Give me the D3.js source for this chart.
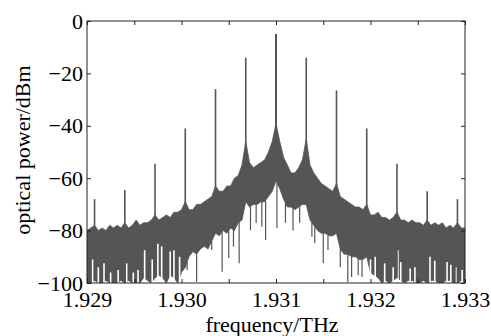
<!DOCTYPE html>
<html>
<head>
<meta charset="utf-8">
<script src="https://cdn.jsdelivr.net/npm/d3@7"></script>
<style>
  body { margin: 0; background: #fff; }
  text { font-family: "Liberation Serif", "Times New Roman", serif; }
</style>
</head>
<body>
<div id="chart"></div>
<script>
// sample grid of the spectrum envelope (THz)
const envFreq = [
  1.92900, 1.92904, 1.92908, 1.92912, 1.92916, 1.92920, 1.92924, 1.92928, 1.92932, 1.92936,
  1.92940, 1.92944, 1.92948, 1.92952, 1.92956, 1.92960, 1.92964, 1.92968, 1.92972, 1.92976,
  1.92980, 1.92984, 1.92988, 1.92992, 1.92996, 1.93000, 1.93004, 1.93008, 1.93012, 1.93016,
  1.93020, 1.93024, 1.93028, 1.93032, 1.93036, 1.93040, 1.93044, 1.93048, 1.93052, 1.93056,
  1.93060, 1.93064, 1.93068, 1.93072, 1.93076, 1.93080, 1.93084, 1.93088, 1.93092, 1.93096,
  1.93100, 1.93104, 1.93108, 1.93112, 1.93116, 1.93120, 1.93124, 1.93128, 1.93132, 1.93136,
  1.93140, 1.93144, 1.93148, 1.93152, 1.93156, 1.93160, 1.93164, 1.93168, 1.93172, 1.93176,
  1.93180, 1.93184, 1.93188, 1.93192, 1.93196, 1.93200, 1.93204, 1.93208, 1.93212, 1.93216,
  1.93220, 1.93224, 1.93228, 1.93232, 1.93236, 1.93240, 1.93244, 1.93248, 1.93252, 1.93256,
  1.93260, 1.93264, 1.93268, 1.93272, 1.93276, 1.93280, 1.93284, 1.93288, 1.93292, 1.93296,
  1.93300
];
// upper edge of the noise band (dBm)
const envTop = [
  -80, -79, -78, -80, -79, -80, -78, -79, -78, -79,
  -77, -79, -78, -76, -78, -77, -77, -76, -74, -76,
  -75, -74, -75, -73, -73, -72, -69, -72, -72, -70,
  -70, -69, -68, -67, -63, -65, -65, -63, -63, -60,
  -59, -55, -46, -54, -56, -55, -54, -53, -50, -46,
  -39, -46, -52, -55, -58, -58, -56, -53, -45, -55,
  -58, -60, -62, -63, -64, -65, -62, -67, -68, -69,
  -70, -71, -71, -72, -70, -74, -74, -73, -75, -75,
  -76, -75, -73, -76, -76, -77, -76, -77, -77, -78,
  -76, -78, -77, -78, -77, -79, -78, -79, -77, -79,
  -79
];
// lower edge of the dense noise band (dBm)
const envBottom = [
  -100, -100, -99, -100, -100, -99, -100, -100, -100, -99,
  -100, -99, -100, -100, -100, -98, -99, -100, -98, -97,
  -98, -100, -97, -98, -100, -96, -94, -90, -88, -89,
  -87, -86, -87, -84, -81, -82, -80, -81, -79, -80,
  -77, -76, -69, -71, -70, -70, -69, -69, -67, -65,
  -61, -64, -68, -71, -71, -72, -71, -70, -70, -76,
  -78, -80, -81, -81, -82, -82, -81, -87, -89, -89,
  -90, -90, -91, -91, -90, -96, -97, -98, -100, -99,
  -100, -99, -98, -99, -100, -99, -99, -100, -100, -99,
  -100, -99, -99, -100, -100, -99, -99, -100, -100, -99,
  -100
];
// comb lines
const peakFreq = [1.92908, 1.92940, 1.92972, 1.93004, 1.93036, 1.93068, 1.93100,
                  1.93132, 1.93164, 1.93196, 1.93228, 1.93260, 1.93292];
const peakPower = [-68, -64.5, -54.5, -41, -26, -14, -5, -14, -26.5, -41, -54.5, -65, -68];
// downward noise spikes below the band
const dipFreq = [1.93006, 1.93016, 1.93032, 1.93043, 1.93050, 1.93055, 1.93061, 1.93073,
                 1.93079, 1.93085, 1.93089, 1.93101, 1.93110, 1.93118, 1.93125, 1.93138,
                 1.93141, 1.93150, 1.93155, 1.93168, 1.93176, 1.93180, 1.93187, 1.93191];
const dipPower = [-95, -99.5, -87.4, -95.7, -90.5, -86.1, -92.5, -79.8,
                  -77.1, -78.5, -83.6, -79, -77, -80, -77, -82.3,
                  -84.7, -92.4, -87.4, -93.9, -99.6, -97.7, -97, -97.7];
// white gaps rising from the floor in the outer noise
const gapFreq = [1.92906, 1.92912, 1.92918, 1.92925, 1.92933, 1.92942, 1.92949, 1.92954,
                 1.92961, 1.92969, 1.92975, 1.92979, 1.92988, 1.92992, 1.92998,
                 1.93200, 1.93205, 1.93215, 1.93224, 1.93229, 1.93232, 1.93242, 1.93247,
                 1.93263, 1.93268, 1.93281, 1.93285, 1.93291, 1.93297];
const gapTop = [-91, -94, -92.5, -96, -95, -92.5, -96, -95,
                -87.5, -91, -85, -86, -88, -87.5, -90,
                -91, -90, -92.5, -94, -87.5, -92, -94.5, -94,
                -90, -91.5, -92, -93, -94, -95];

const xTicks = [1.929, 1.9295, 1.930, 1.9305, 1.931, 1.9315, 1.932, 1.9325, 1.933];
const xLabels = ["1.929", "", "1.930", "", "1.931", "", "1.932", "", "1.933"];
const yTicks = [-100, -80, -60, -40, -20, 0];
const yLabels = ["\u2212100", "\u221280", "\u221260", "\u221240", "\u221220", "0"];

const W = 491, H = 336;
const margin = { top: 21, right: 26, bottom: 53, left: 87 };
const plotW = W - margin.left - margin.right;
const plotH = H - margin.top - margin.bottom;
const specColor = "#555";

const svg = d3.select("#chart").append("svg")
  .attr("width", W).attr("height", H)
  .style("background", "#fff");

const x = d3.scaleLinear().domain([1.929, 1.933]).range([margin.left, margin.left + plotW]);
const y = d3.scaleLinear().domain([-100, 0]).range([margin.top + plotH, margin.top]);
const bottomAt = d3.scaleLinear().domain(envFreq).range(envBottom);

svg.append("clipPath").attr("id", "plot-clip")
  .append("rect")
  .attr("x", margin.left).attr("y", margin.top)
  .attr("width", plotW).attr("height", plotH);

const spec = svg.append("g").attr("clip-path", "url(#plot-clip)");

const band = d3.area()
  .x((d, i) => x(envFreq[i]))
  .y0((d, i) => y(envBottom[i]))
  .y1((d, i) => y(envTop[i]));

spec.append("path")
  .datum(envFreq)
  .attr("d", band)
  .attr("fill", specColor)
  .attr("stroke", specColor)
  .attr("stroke-width", 0.8);

spec.selectAll("line.gap")
  .data(gapFreq)
  .enter().append("line")
  .attr("class", "gap")
  .attr("x1", (d) => x(d)).attr("x2", (d) => x(d))
  .attr("y1", y(-100))
  .attr("y2", (d, i) => y(gapTop[i]))
  .attr("stroke", "#fff")
  .attr("stroke-width", 1.6);

spec.selectAll("line.dip")
  .data(dipFreq)
  .enter().append("line")
  .attr("class", "dip")
  .attr("x1", (d) => x(d)).attr("x2", (d) => x(d))
  .attr("y1", (d) => y(bottomAt(d)))
  .attr("y2", (d, i) => y(dipPower[i]))
  .attr("stroke", specColor)
  .attr("stroke-width", 1.2);

spec.selectAll("line.peak")
  .data(peakFreq)
  .enter().append("line")
  .attr("class", "peak")
  .attr("x1", (d) => x(d)).attr("x2", (d) => x(d))
  .attr("y1", (d) => y(bottomAt(d)))
  .attr("y2", (d, i) => y(peakPower[i]))
  .attr("stroke", specColor)
  .attr("stroke-width", (d, i) => (i === 6 ? 2 : 1.6));

// axes with inward ticks on all four sides
const styleAxis = (g) => {
  g.select(".domain").remove();
  g.selectAll(".tick line").attr("stroke", "#222");
  g.selectAll(".tick text")
    .attr("fill", "#000")
    .style("font-size", "22px")
    .style("font-family", "'Liberation Serif', 'Times New Roman', serif");
};

svg.append("g")
  .attr("transform", `translate(0, ${margin.top + plotH})`)
  .call(d3.axisBottom(x).tickValues(xTicks).tickSize(-4).tickSizeOuter(0)
    .tickPadding(8).tickFormat((d, i) => xLabels[i]))
  .call(styleAxis);

svg.append("g")
  .attr("transform", `translate(0, ${margin.top})`)
  .call(d3.axisTop(x).tickValues(xTicks).tickSize(-4).tickSizeOuter(0).tickFormat(""))
  .call(styleAxis);

svg.append("g")
  .attr("transform", `translate(${margin.left}, 0)`)
  .call(d3.axisLeft(y).tickValues(yTicks).tickSize(-4).tickSizeOuter(0)
    .tickPadding(4).tickFormat((d, i) => yLabels[i]))
  .call(styleAxis);

svg.append("g")
  .attr("transform", `translate(${margin.left + plotW}, 0)`)
  .call(d3.axisRight(y).tickValues(yTicks).tickSize(-4).tickSizeOuter(0).tickFormat(""))
  .call(styleAxis);

svg.append("rect")
  .attr("x", margin.left).attr("y", margin.top)
  .attr("width", plotW).attr("height", plotH)
  .attr("fill", "none")
  .attr("stroke", "#222")
  .attr("stroke-width", 1);

svg.append("text")
  .attr("x", 272).attr("y", 332)
  .attr("text-anchor", "middle")
  .style("font-size", "22px")
  .text("frequency/THz");

svg.append("text")
  .attr("transform", "translate(30, 150) rotate(-90)")
  .attr("text-anchor", "middle")
  .style("font-size", "22px")
  .text("optical power/dBm");
</script>
</body>
</html>
